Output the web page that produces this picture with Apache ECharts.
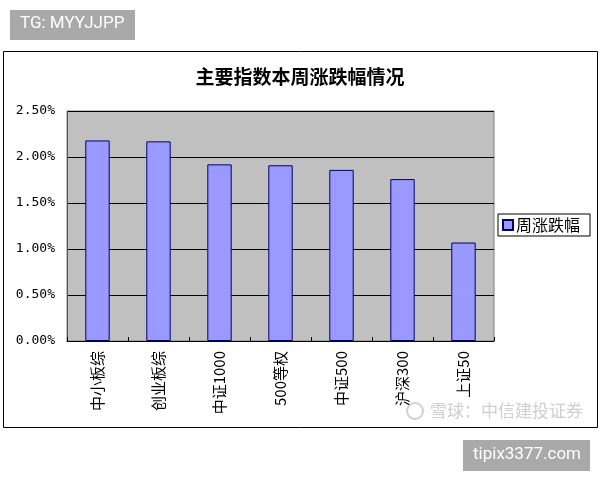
<!DOCTYPE html>
<html><head><meta charset="utf-8">
<script src="https://cdn.jsdelivr.net/npm/echarts@6/dist/echarts.min.js"></script>
<style>html,body{margin:0;padding:0;background:#fff}#c{width:600px;height:480px}</style>
</head><body><div id="c"></div>
<script>
var categories = ['中小板综','创业板综','中证1000','500等权','中证500','沪深300','上证50'];
var weeklyChange = [2.18, 2.17, 1.92, 1.91, 1.86, 1.76, 1.07];
var yTicks = [0, 0.5, 1.0, 1.5, 2.0, 2.5];
var seriesName = '周涨跌幅';
var titleText = '主要指数本周涨跌幅情况';

var chart = echarts.init(document.getElementById('c'));
chart.setOption({
  animation: false,
  backgroundColor: '#fff',
  title: {
    text: titleText, left: 'center', top: 62,
    textStyle: {fontFamily: 'Noto Sans CJK SC', fontWeight: 'bold', fontSize: 19, color: '#000'}
  },
  legend: {
    data: [seriesName], left: 498, top: 214,
    orient: 'vertical',
    padding: [3, 10, 3, 4], itemGap: 0,
    borderColor: '#000', borderWidth: 1,
    itemWidth: 10, itemHeight: 10, icon: 'rect',
    textStyle: {fontFamily: 'Noto Sans CJK SC', fontSize: 16, color: '#000', padding: [0,0,0,-2]}
  },
  grid: {
    left: 67, right: 106, top: 111, bottom: 139,
    show: true, backgroundColor: '#c0c0c0', borderColor: '#808080', borderWidth: 1
  },
  xAxis: {
    type: 'category', data: categories,
    axisLine: {lineStyle: {color: '#000', width: 1}},
    axisTick: {show: true, inside: true, length: 4, lineStyle: {color: '#000'}},
    axisLabel: {rotate: 90, margin: 10, fontFamily: 'Noto Sans CJK SC', fontSize: 15, color: '#000'}
  },
  yAxis: {
    type: 'value', min: yTicks[0], max: yTicks[yTicks.length-1], interval: 0.5,
    axisLine: {show: true, lineStyle: {color: '#555'}},
    axisTick: {show: false},
    splitLine: {lineStyle: {color: '#000', width: 1}},
    axisLabel: {
      margin: 12, fontFamily: 'DejaVu Sans Mono', fontSize: 13, color: '#000',
      formatter: function (v) { return v.toFixed(2) + '%'; }
    }
  },
  series: [{
    name: seriesName, type: 'bar', data: weeklyChange, barWidth: '40%',
    itemStyle: {color: '#9999ff', borderColor: '#000066', borderWidth: 1}
  }],
  graphic: [
    {type: 'rect', shape: {x: 3.5, y: 51.5, width: 594, height: 376}, style: {fill: null, stroke: '#000', lineWidth: 1}, z: -1},
    {type: 'rect', shape: {x: 10, y: 10, width: 125, height: 30}, style: {fill: '#a9a9a9'}},
    {type: 'text', left: 20, top: 15, style: {text: 'TG: MYYJJPP', fill: '#fff', fontSize: 17, fontFamily: 'Roboto'}},
    {type: 'rect', shape: {x: 463, y: 440, width: 127, height: 31}, style: {fill: '#a9a9a9'}},
    {type: 'text', left: 473, top: 446, style: {text: 'tipix3377.com', fill: '#fff', fontSize: 17, fontFamily: 'Roboto'}},
    {type: 'circle', shape: {cx: 415, cy: 411, r: 8}, style: {fill: null, stroke: '#d0d0d0', lineWidth: 2}},
    {type: 'text', left: 430, top: 402, style: {text: '雪球：中信建投证券', fill: '#cfcfcf', fontSize: 17, fontFamily: 'Noto Sans CJK SC'}}
  ]
});
</script></body></html>
